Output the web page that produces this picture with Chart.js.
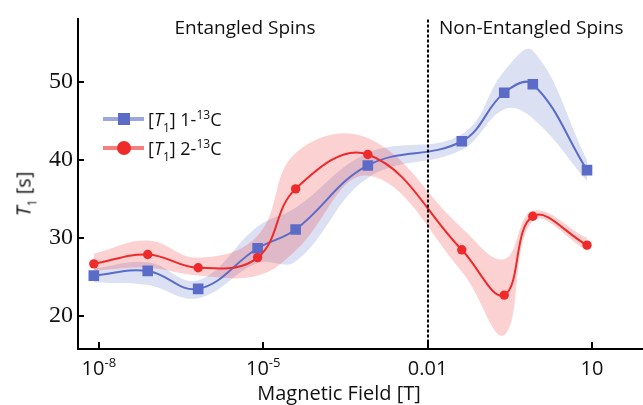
<!DOCTYPE html>
<html>
<head>
<meta charset="utf-8">
<script src="https://cdn.jsdelivr.net/npm/chart.js@4.4.1/dist/chart.umd.min.js"></script>
<style>
  html, body { margin: 0; padding: 0; background: #fff; }
  #wrap { position: relative; width: 643px; height: 405px; font-family: "Open Sans", sans-serif; color: #111; }
  #chart { position: absolute; left: 0; top: 0; }
  .legend-row { position: absolute; left: 103px; height: 28px; display: flex; align-items: center; font-size: 18px; white-space: nowrap; }
  .swatch { position: relative; width: 41px; height: 28px; margin-right: 4px; }
  .swatch .ln { position: absolute; left: 0; top: 12px; width: 41px; height: 4px; }
  .swatch .mk { position: absolute; left: 15px; top: 8px; width: 12px; height: 12px; }
  .sub { font-size: 12px; position: relative; top: 6px; }
  .sup { font-size: 12px; position: relative; top: -7px; }
  #ytitle { position: absolute; left: 23px; top: 194px; transform: translate(-50%, -50%) rotate(-90deg); font-size: 20px; white-space: nowrap; }
</style>
</head>
<body>
<div id="wrap">
  <canvas id="chart" width="643" height="405"></canvas>
  <div class="legend-row" style="top:105px">
    <span class="swatch"><span class="ln" style="background:rgba(91,108,200,0.6)"></span><span class="mk" style="background:#5b6cc8"></span></span>
    <span>[<i>T</i><span class="sub">1</span>] 1-<span class="sup">13</span>C</span>
  </div>
  <div class="legend-row" style="top:134px">
    <span class="swatch"><span class="ln" style="background:rgba(238,40,40,0.6)"></span><span class="mk" style="background:#ee2a2a;border-radius:50%;left:14px;top:7px;width:14px;height:14px"></span></span>
    <span>[<i>T</i><span class="sub">1</span>] 2-<span class="sup">13</span>C</span>
  </div>
  <div id="ytitle"><i>T</i><span class="sub">1</span> [s]</div>
</div>
<script>
// === Data ===
const fields = [8.1e-9, 7.8e-8, 6.5e-7, 7.9e-6, 3.9e-5, 8.1e-4, 0.042, 0.25, 0.83, 8.1];

const t1Pos1 = [25.2, 25.8, 23.5, 28.7, 31.1, 39.3, 42.4, 48.6, 49.7, 38.7];
const t1Pos1Upper = [26.1, 26.9, 24.6, 31.5, 33.9, 40.9, 43.3, 51.4, 54.0, 40.0];
const t1Pos1Lower = [24.3, 24.0, 22.3, 26.8, 27.0, 37.7, 41.3, 46.5, 45.3, 37.3];

const t1Pos2 = [26.7, 27.9, 26.2, 27.5, 36.3, 40.7, 28.5, 22.7, 32.8, 29.1];
const t1Pos2Upper = [28.0, 29.7, 27.5, 30.3, 40.9, 42.8, 31.3, 27.3, 33.5, 30.0];
const t1Pos2Lower = [25.8, 26.2, 25.2, 25.2, 28.4, 38.0, 25.7, 17.6, 32.2, 28.4];

const xTickVals = [1e-8, 1e-5, 0.01, 10];
const xTickBase = ["10", "10", "0.01", "10"];
const xTickExp = ["-8", "-5", "", ""];
const yTickVals = [20, 30, 40, 50];

const boundary = 0.01;

const blue = "#5b6cc8";
const red = "#ee2a2a";

function pts(ys) {
  return ys.map((y, i) => ({ x: fields[i], y: y }));
}

// === Extra drawing: inward ticks, x labels, divider, region names ===
const extras = {
  id: "extras",
  afterDraw(chart) {
    const ctx = chart.ctx;
    const area = chart.chartArea;
    const xs = chart.scales.x;
    const ys = chart.scales.y;
    ctx.save();
    ctx.strokeStyle = "#000";
    ctx.lineWidth = 2;
    yTickVals.forEach(v => {
      const py = Math.round(ys.getPixelForValue(v));
      ctx.beginPath();
      ctx.moveTo(area.left, py);
      ctx.lineTo(area.left + 6, py);
      ctx.stroke();
    });
    xTickVals.forEach(v => {
      const px = Math.round(xs.getPixelForValue(v));
      ctx.beginPath();
      ctx.moveTo(px, area.bottom);
      ctx.lineTo(px, area.bottom - 7);
      ctx.stroke();
    });

    // divider
    const bx = Math.round(xs.getPixelForValue(boundary));
    ctx.setLineDash([3, 2]);
    ctx.beginPath();
    ctx.moveTo(bx, area.top);
    ctx.lineTo(bx, area.bottom);
    ctx.stroke();
    ctx.setLineDash([]);

    // x tick labels with exponents
    ctx.fillStyle = "#111";
    ctx.textBaseline = "alphabetic";
    ctx.textAlign = "left";
    xTickVals.forEach((v, i) => {
      const px = xs.getPixelForValue(v);
      ctx.font = "20px 'Open Sans'";
      const wb = ctx.measureText(xTickBase[i]).width;
      ctx.font = "13px 'Open Sans'";
      const we = xTickExp[i] ? ctx.measureText(xTickExp[i]).width : 0;
      const x0 = px - (wb + we) / 2;
      ctx.font = "20px 'Open Sans'";
      ctx.fillText(xTickBase[i], x0, 375);
      if (xTickExp[i]) {
        ctx.font = "13px 'Open Sans'";
        ctx.fillText(xTickExp[i], x0 + wb, 367);
      }
    });

    // axis title
    ctx.font = "20px 'Open Sans'";
    ctx.textAlign = "center";
    ctx.fillText("Magnetic Field [T]", 339, 400);

    // region names
    ctx.font = "19px 'Open Sans'";
    ctx.fillText("Entangled Spins", 245, 34);
    ctx.textAlign = "left";
    ctx.fillText("Non-Entangled Spins", bx + 11, 34);
    ctx.restore();
  }
};

const bandBase = { borderWidth: 0, pointRadius: 0, tension: 0.4 };

new Chart(document.getElementById("chart"), {
  type: "line",
  data: {
    datasets: [
      { ...bandBase, data: pts(t1Pos1Upper), fill: "+1", backgroundColor: "rgba(91,108,200,0.21)", order: 10 },
      { ...bandBase, data: pts(t1Pos1Lower), fill: false, order: 11 },
      { ...bandBase, data: pts(t1Pos2Upper), fill: "+1", backgroundColor: "rgba(238,40,40,0.21)", order: 8 },
      { ...bandBase, data: pts(t1Pos2Lower), fill: false, order: 9 },
      {
        label: "[T1] 1-13C", data: pts(t1Pos1), borderColor: blue, backgroundColor: blue,
        borderWidth: 2, pointStyle: "rect", pointRadius: 7.5, pointBorderWidth: 0,
        tension: 0.4, fill: false, order: 1
      },
      {
        label: "[T1] 2-13C", data: pts(t1Pos2), borderColor: red, backgroundColor: red,
        borderWidth: 2, pointStyle: "circle", pointRadius: 4.7, pointBorderWidth: 0,
        tension: 0.4, fill: false, order: 0
      }
    ]
  },
  options: {
    responsive: false,
    animation: false,
    layout: { autoPadding: false, padding: { top: 17, right: 0, left: 0, bottom: 0 } },
    plugins: { legend: { display: false }, tooltip: { enabled: false } },
    scales: {
      x: {
        type: "logarithmic",
        min: Math.pow(10, -8.38),
        max: Math.pow(10, 1.93),
        ticks: { display: false },
        grid: { drawOnChartArea: false, drawTicks: false },
        border: { color: "#000", width: 2 },
        afterBuildTicks: s => { s.ticks = xTickVals.map(v => ({ value: v })); },
        afterFit: s => { s.height = 56; }
      },
      y: {
        min: 15.8,
        max: 58,
        ticks: { font: { family: "Liberation Serif", size: 24 }, color: "#111", padding: 5 },
        grid: { drawOnChartArea: false, drawTicks: false },
        border: { color: "#000", width: 2 },
        afterBuildTicks: s => { s.ticks = yTickVals.map(v => ({ value: v })); },
        afterFit: s => { s.width = 78; }
      }
    }
  },
  plugins: [extras]
});
</script>
</body>
</html>
